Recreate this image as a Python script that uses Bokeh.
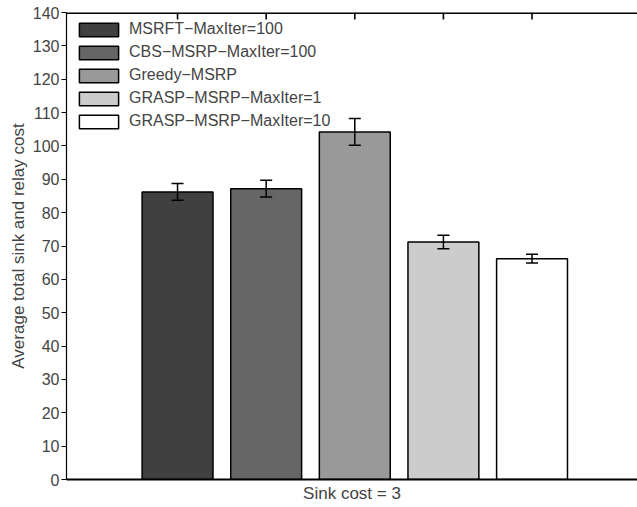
from bokeh.plotting import figure
from bokeh.models import ColumnDataSource, Whisker, LinearAxis, FixedTicker, Range1d, TeeHead, Span
from bokeh.embed import file_html
from bokeh.resources import INLINE

methods = ["MSRFT\u2212MaxIter=100", "CBS\u2212MSRP\u2212MaxIter=100", "Greedy\u2212MSRP",
           "GRASP\u2212MSRP\u2212MaxIter=1", "GRASP\u2212MSRP\u2212MaxIter=10"]
positions = [1, 2, 3, 4, 5]
means = [86.2, 87.2, 104.2, 71.2, 66.2]
errors = [2.5, 2.5, 4.0, 2.0, 1.3]
colors = ["#404040", "#666666", "#999999", "#cccccc", "#ffffff"]
y_ticks = list(range(0, 141, 10))
y_max = 140

src = ColumnDataSource(dict(
    x=positions, top=means, name=methods, color=colors,
    upper=[m + e for m, e in zip(means, errors)],
    lower=[m - e for m, e in zip(means, errors)],
))

FONT = "Liberation Sans"

p = figure(width=637, height=507, output_backend="svg", toolbar_location=None,
           x_range=Range1d(-0.253, 6.19), y_range=Range1d(0, y_max),
           min_border_left=66, min_border_right=0, min_border_top=12, min_border_bottom=28,
           x_axis_location=None, y_axis_location=None)
p.outline_line_color = None
p.grid.visible = False
p.background_fill_color = "white"
p.border_fill_color = "white"

# top box line with inward ticks at bar positions
p.add_layout(Span(location=y_max, dimension="width", line_color="black", line_width=3,
                  level="overlay"))
p.segment(x0=positions, x1=positions, y0=[y_max] * 5, y1=[y_max - 2.1] * 5,
          line_color="black", line_width=1.6)

p.vbar(x="x", top="top", width=0.8, source=src, fill_color="color",
       line_color="black", line_width=1.5, legend_field="name")

w = Whisker(base="x", upper="upper", lower="lower", source=src,
            line_color="black", line_width=1.5, level="overlay")
w.upper_head = TeeHead(size=12, line_color="black", line_width=1.5)
w.lower_head = TeeHead(size=12, line_color="black", line_width=1.5)
p.add_layout(w)

# left axis
ya = LinearAxis(ticker=FixedTicker(ticks=y_ticks), axis_label="Average total sink and relay cost")
ya.axis_line_width = 1.2
ya.major_tick_out = 5
ya.major_tick_in = 0
ya.minor_tick_line_color = None
ya.major_label_text_font = FONT
ya.major_label_text_font_size = "16px"
ya.major_label_standoff = 2
ya.axis_label_text_font = FONT
ya.axis_label_text_font_size = "17px"
ya.axis_label_text_font_style = "normal"
ya.axis_label_standoff = 2
p.add_layout(ya, "left")

# bottom axis
xa = LinearAxis(ticker=FixedTicker(ticks=[]), axis_label="Sink cost = 3")
xa.axis_line_width = 2
xa.major_tick_line_color = None
xa.minor_tick_line_color = None
xa.major_label_text_font_size = "1px"
xa.major_label_text_alpha = 0
xa.axis_label_text_font = FONT
xa.axis_label_text_font_size = "17px"
xa.axis_label_text_font_style = "normal"
xa.axis_label_standoff = 4
p.add_layout(xa, "below")

lg = p.legend[0]
lg.location = "top_left"
lg.margin = 8
lg.padding = 3
lg.spacing = 5
lg.glyph_width = 49
lg.glyph_height = 17
lg.label_height = 17
lg.label_standoff = 6
lg.label_text_font = FONT
lg.label_text_font_size = "16px"
lg.border_line_color = None
lg.background_fill_alpha = 0

open("out.html", "w").write(file_html(p, INLINE))
